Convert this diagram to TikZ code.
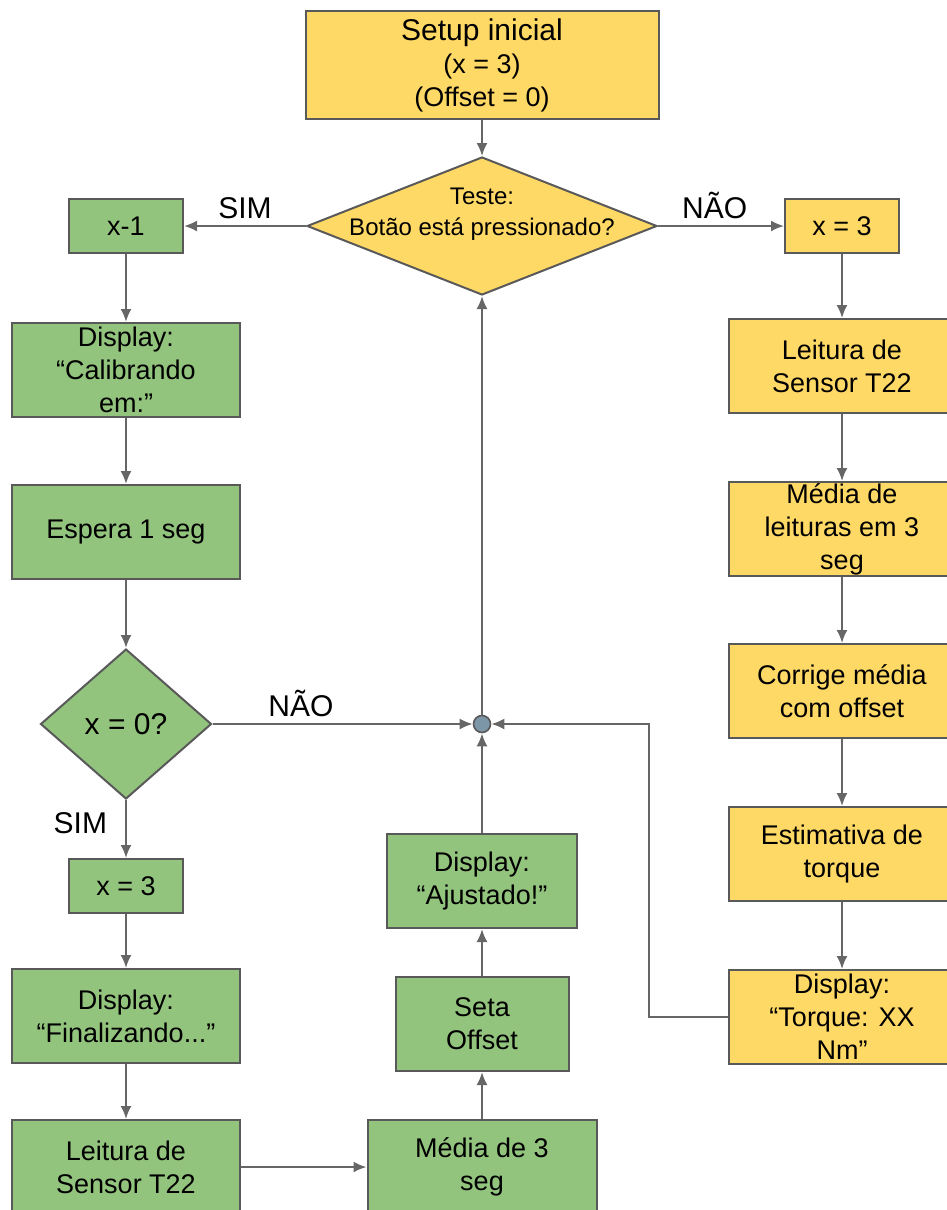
\documentclass[tikz,border=0pt]{standalone}
\usepackage{fontspec}
\setmainfont{Liberation Sans}
\usetikzlibrary{shapes.geometric,arrows.meta}

\definecolor{yel}{HTML}{FFD966}
\definecolor{grn}{HTML}{93C47D}
\definecolor{edgegray}{HTML}{595959}
\definecolor{arrowgray}{HTML}{666666}
\definecolor{juncfill}{HTML}{7D96A7}

\begin{document}
\begin{tikzpicture}[x=0.5pt,y=-0.5pt,
    >={Latex[length=6.5pt,width=5.5pt]},
    box/.style={draw=edgegray,line width=1pt,inner sep=0pt,align=center,
      font=\fontsize{13.5}{16.5}\selectfont},
    yelbox/.style={box,fill=yel},
    grnbox/.style={box,fill=grn},
    bigbox/.style={minimum width=114pt,minimum height=47pt},
    smallbox/.style={minimum width=57pt,minimum height=27pt},
    decision/.style={diamond,draw=edgegray,line width=1pt,inner sep=0pt},
    flow/.style={->,draw=arrowgray,line width=1pt},
    answer/.style={inner sep=3pt,font=\fontsize{15}{18}\selectfont}]
        \useasboundingbox (0,0) rectangle (947,1210);

        \coordinate (S) at (482,65);
        \coordinate (T) at (482,226);
        \coordinate (J) at (482,724);
        \coordinate (fbk) at (649,724);

        \node[yelbox,minimum width=176.5pt,minimum height=54pt] (setup) at (S)
            {{\fontsize{15}{16.5}\selectfont Setup inicial}\\(x = 3)\\(Offset = 0)};
        \node[decision,fill=yel,minimum width=175pt,minimum height=69pt] (teste) at (T) {};
        \node[align=center,font=\fontsize{12}{15.5}\selectfont] (testetxt) at (482,214)
            {Teste:\\Botão está pressionado?};

        %############################################ ramo SIM

        \node[grnbox,smallbox] (xm1) at (126,226) {x-1};
        \node[grnbox,bigbox] (calib) at (126,370) {Display:\\“Calibrando\\em:”};
        \node[grnbox,bigbox] (espera) at (126,532) {Espera 1 seg};
        \node[decision,fill=grn,minimum width=85.5pt,minimum height=75pt,
            font=\fontsize{15}{18}\selectfont] (xzero) at (126,724) {x = 0?};
        \node[grnbox,smallbox] (xtresL) at (126,886) {x = 3};
        \node[grnbox,bigbox] (final) at (126,1016) {Display:\\“Finalizando...”};
        \node[grnbox,bigbox] (leitL) at (126,1167) {Leitura de\\Sensor T22};
        \node[grnbox,bigbox,minimum width=114.5pt] (media3) at (482,1167) {Média de 3\\seg};
        \node[grnbox,minimum width=86.5pt,minimum height=47pt] (seta) at (482,1024) {Seta\\Offset};
        \node[grnbox,minimum width=95pt,minimum height=47pt] (ajust) at (482,881) {Display:\\“Ajustado!”};

        \node[circle,draw=edgegray,fill=juncfill,line width=0.8pt,
            minimum size=8.5pt,inner sep=0pt] (junc) at (J) {};

        %############################################ ramo NÃO

        \node[yelbox,smallbox] (xtresR) at (842,226) {x = 3};
        \node[yelbox,bigbox,minimum width=113pt] (leitR) at (842,366) {Leitura de\\Sensor T22};
        \node[yelbox,bigbox,minimum width=113pt] (mediaR) at (842,529) {Média de\\leituras em 3\\seg};
        \node[yelbox,bigbox,minimum width=113pt] (corrige) at (842,691) {Corrige média\\com offset};
        \node[yelbox,bigbox,minimum width=113pt] (estim) at (842,854) {Estimativa de\\torque};
        \node[yelbox,bigbox,minimum width=113pt] (dispT) at (842,1017) {Display:\\“Torque: XX\\Nm”};

        \draw[flow] (setup) -- (teste);
        \draw[flow] (teste) -- node[answer,above] {SIM} (xm1);
        \draw[flow] (teste) -- node[answer,above,pos=0.45] {NÃO} (xtresR);

        \draw[flow] (xm1) -- (calib);
        \draw[flow] (calib) -- (espera);
        \draw[flow] (espera) -- (xzero);
        \draw[flow] (xzero) -- node[answer,above,pos=0.34] {NÃO} (junc);
        \draw[flow] (xzero) -- node[answer,left=6pt,pos=0.4] {SIM} (xtresL);
        \draw[flow] (xtresL) -- (final);
        \draw[flow] (final) -- (leitL);
        \draw[flow] (leitL) -- (media3);
        \draw[flow] (media3) -- (seta);
        \draw[flow] (seta) -- (ajust);
        \draw[flow] (ajust) -- (junc);
        \draw[flow] (junc) -- (teste);

        \draw[flow] (xtresR) -- (leitR);
        \draw[flow] (leitR) -- (mediaR);
        \draw[flow] (mediaR) -- (corrige);
        \draw[flow] (corrige) -- (estim);
        \draw[flow] (estim) -- (dispT);
        \draw[flow] (dispT.west) -| (fbk) -- (junc);
\end{tikzpicture}
\end{document}
